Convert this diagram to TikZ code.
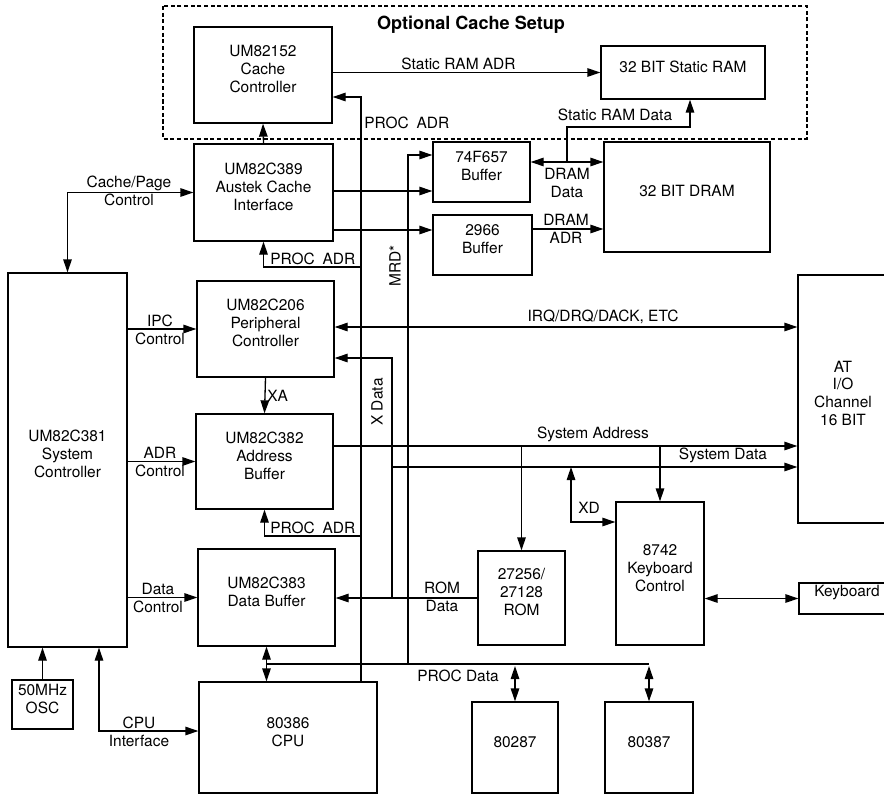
\documentclass[tikz,border=0pt]{standalone}
\usepackage{fontspec}
\setmainfont{TeX Gyre Heros}
\usetikzlibrary{arrows.meta, positioning, calc, fit}

\begin{document}
\begin{tikzpicture}[x=0.02cm, y=-0.02cm, >={Triangle[length=2.6mm, width=1.7mm]},
    line width=0.75pt,
    blk/.style={draw, inner sep=0pt, align=center, font=\fontsize{8.8}{10.2}\selectfont},
    lbl/.style={inner sep=1pt, align=center, font=\fontsize{8.8}{10.2}\selectfont}]
      \useasboundingbox (0,0) rectangle (884,794);

      \draw[dash pattern=on 2.3pt off 1.5pt] (163,6) rectangle (807,139);
      \node[font=\bfseries\fontsize{10.3}{12}\selectfont] (title) at (471,25)
        {Optional Cache Setup};

      \node[blk, fit={(194,27) (332,123)}] (cc) {UM82152\\Cache\\Controller};
      \node[blk, fit={(601,46) (765,99)}] (sram) {32 BIT Static RAM};
      \node[blk, fit={(194,144) (333,241)}] (aci) {UM82C389\\Austek Cache\\Interface};
      \node[blk, fit={(433,142) (530,202)}] (buf657) {74F657\\Buffer};
      \node[blk, fit={(433,215) (532,275)}] (buf2966) {2966\\Buffer};
      \node[blk, fit={(604,142) (770,252)}] (dram) {32 BIT DRAM};
      \node[blk, fit={(8,273) (127,647)}] (sysc) {UM82C381\\System\\Controller};
      \node[blk, fit={(197,281) (334,377)}] (pc) {UM82C206\\Peripheral\\Controller};
      \node[blk, fit={(196,414) (333,509)}] (ab) {UM82C382\\Address\\Buffer};
      \node[blk, fit={(198,549) (335,646)}] (db) {UM82C383\\Data Buffer};
      \node[blk, fit={(12,680) (73,729)}] (osc) {50MHz\\OSC};
      \node[blk, fit={(199,682) (377,793)}] (cpu) {80386\\CPU};
      \node[blk, fit={(478,551) (565,645)}] (rom) {27256/\\27128\\ROM};
      \node[blk, fit={(616,502) (704,645)}] (kbc) {8742\\Keyboard\\Control};
      \node[blk, fit={(798,275) (888,523)}] (atio) {AT\\I/O\\Channel\\16 BIT};
      \node[blk, fit={(799,583) (895,614)}] (kbd) {Keyboard};
      \node[blk, fit={(472,702) (558,793)}] (fpu2) {80287};
      \node[blk, fit={(605,702) (693,793)}] (fpu3) {80387};

      \coordinate (pa) at (361,0);
      \coordinate (xd) at (392,0);
      \coordinate (mrd) at (408,0);

      % cache side
      \draw[->] (cc.east |- sram.west) -- (sram.west)
        node[lbl, above, pos=0.47] (l-sradr) {Static RAM ADR};
      \draw[->] (aci.north) -- (cc.south);
      \draw[->] (cpu.north -| pa) |- (cc.east |- 0,97);
      \node[lbl, anchor=west] (l-pa1) at (362,123) {PROC\enspace ADR};
      \draw[->] (pa |- 0,267) -| (aci.south);
      \node[lbl, anchor=south west] (l-pa2) at (268,267) {PROC\enspace ADR};
      \draw[->] (pa |- 0,536) -| (ab.south);
      \node[lbl, anchor=south west] (l-pa3) at (268,536) {PROC\enspace ADR};

      \draw[<->] (aci.west) -| (sysc.north);
      \node[lbl] (l-cpc) at (129,191) {Cache/Page\\Control};
      \draw[->] (aci.east |- 0,191) -- (buf657.west |- 0,191);
      \draw[->] (aci.east |- 0,230) -- (buf2966.west |- 0,230);
      \draw[->] (mrd |- 0,664) |- (buf657.west |- 0,155);
      \node[lbl, rotate=90] (l-mrd) at (395,266) {MRD*};

      \draw[<->] (buf657.east |- 0,162) -- (dram.west |- 0,162);
      \node[lbl] (l-dd) at (567,183) {DRAM\\Data};
      \draw[->] (buf2966.east |- 0,229) -- (dram.west |- 0,229);
      \node[lbl] (l-da) at (566,229) {DRAM\\ADR};
      \coordinate (sd) at (567,162);
      \draw[->] (sd) |- (690,127) -- (sram.south -| 690,0);
      \node[lbl] (l-srd) at (615,115) {Static RAM Data};

      % system controller
      \draw[->] (sysc.east |- pc.west) -- (pc.west);
      \node[lbl] (l-ipc) at (160,330) {IPC\\Control};
      \draw[->] (sysc.east |- ab.west) -- (ab.west);
      \node[lbl] (l-adr) at (160,462) {ADR\\Control};
      \draw[->] (sysc.east |- db.west) -- (db.west);
      \node[lbl] (l-dc) at (158,598) {Data\\Control};
      \draw[->] (osc.north) -- (osc.north |- sysc.south);
      \draw[<->] (sysc.south -| 99,0) |- (cpu.west |- 0,731);
      \node[lbl] (l-cpui) at (139,732) {CPU\\Interface};

      % peripheral and system bus
      \draw[<->] (pc.east |- 0,327) -- (atio.west |- 0,327);
      \node[lbl, anchor=south] (l-irq) at (603,326) {IRQ/DRQ/DACK, ETC};
      \draw[->] (pc.south) -- (ab.north) node[lbl, right, midway] (l-xa) {XA};
      \draw[->] (xd |- rom.west) |- (pc.east |- 0,358);
      \node[lbl, rotate=90] (l-xdat) at (377,402) {X Data};

      \draw[->] (ab.east |- 0,446) -- (atio.west |- 0,446);
      \node[lbl, anchor=south] (l-sa) at (593,444) {System Address};
      \draw[->] (xd |- 0,467) -- (atio.west |- 0,467);
      \node[lbl, anchor=south] (l-sdat) at (723,465) {System Data};
      \draw[->] (rom.north |- 0,446) -- (rom.north);
      \draw[->] (kbc.north |- 0,446) -- (kbc.north);
      \draw[<->] (571,467) |- (kbc.west |- 0,522);
      \node[lbl] (l-xd) at (589,508) {XD};
      \draw[<->] (kbc.east |- kbd.west) -- (kbd.west);

      % data paths
      \draw[->] (rom.west) -- (db.east |- rom.west);
      \node[lbl] (l-rd) at (442,597) {ROM\\Data};
      \draw[<->] (db.south) -- (db.south |- cpu.north);
      \draw (db.south |- 0,664) -- (fpu3.north |- 0,664);
      \draw[<->] (fpu2.north |- 0,666) -- (fpu2.north);
      \draw[<->] (fpu3.north |- 0,666) -- (fpu3.north);
      \node[lbl] (l-pd) at (458,676) {PROC Data};
    \end{tikzpicture}
\end{document}
